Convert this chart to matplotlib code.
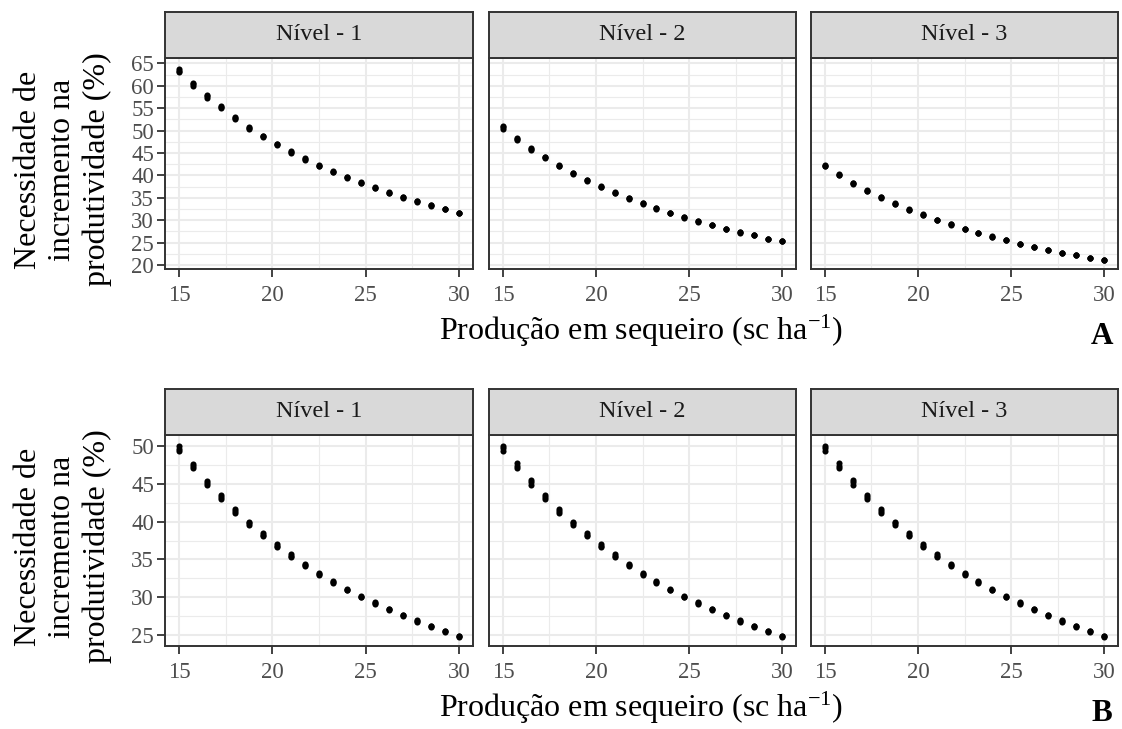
import matplotlib
matplotlib.use("Agg")  # no display in the sandbox
import matplotlib.ticker as ticker
from matplotlib import pyplot as plt

plt.rcParams["font.family"] = ["Liberation Serif", "DejaVu Serif"]
plt.rcParams["mathtext.fontset"] = "custom"
plt.rcParams["mathtext.rm"] = "Liberation Serif"
plt.rcParams["mathtext.it"] = "Liberation Serif:italic"
plt.rcParams["mathtext.bf"] = "Liberation Serif:bold"

# producao em sequeiro (sc/ha)
producao = [15.0, 15.75, 16.5, 17.25, 18.0, 18.75, 19.5, 20.25, 21.0, 21.75, 22.5,
            23.25, 24.0, 24.75, 25.5, 26.25, 27.0, 27.75, 28.5, 29.25, 30.0]
niveis = ["Nível - 1", "Nível - 2", "Nível - 3"]

# painel A - necessidade de incremento (%), centro de cada grupo de pontos
a_nivel1 = [63.36, 60.31, 57.63, 55.18, 52.80, 50.64, 48.71, 46.92, 45.21, 43.65, 42.16,
            40.82, 39.55, 38.36, 37.25, 36.13, 35.09, 34.20, 33.30, 32.48, 31.67]
a_nivel2 = [50.72, 48.18, 45.95, 44.03, 42.15, 40.46, 38.90, 37.47, 36.13, 34.88, 33.76,
            32.65, 31.60, 30.64, 29.75, 28.92, 28.03, 27.29, 26.62, 25.87, 25.29]
a_nivel3 = [42.15, 40.14, 38.29, 36.57, 35.10, 33.67, 32.34, 31.22, 30.04, 29.08, 28.03,
            27.14, 26.31, 25.51, 24.75, 24.01, 23.34, 22.74, 22.16, 21.63, 21.11]
# amplitude vertical de cada grupo de pontos
a_amp1 = [0.75, 0.55, 0.50, 0.45, 0.42, 0.38, 0.35, 0.32, 0.30, 0.28, 0.26,
          0.24, 0.22, 0.20, 0.18, 0.16, 0.14, 0.12, 0.10, 0.08, 0.07]
a_amp2 = [0.60, 0.45, 0.40, 0.36, 0.33, 0.30, 0.28, 0.26, 0.24, 0.22, 0.20,
          0.18, 0.16, 0.15, 0.14, 0.12, 0.10, 0.09, 0.08, 0.06, 0.05]
a_amp3 = [0.30, 0.25, 0.22, 0.20, 0.18, 0.16, 0.15, 0.14, 0.13, 0.12, 0.11,
          0.10, 0.09, 0.08, 0.07, 0.06, 0.05, 0.05, 0.04, 0.04, 0.03]

# painel B
b_nivel1 = [49.62, 47.35, 45.14, 43.20, 41.40, 39.77, 38.26, 36.80, 35.51, 34.27, 33.13,
            32.05, 31.03, 30.10, 29.24, 28.41, 27.64, 26.87, 26.18, 25.51, 24.87]
b_nivel2 = [49.66, 47.38, 45.16, 43.22, 41.41, 39.78, 38.26, 36.80, 35.51, 34.27, 33.13,
            32.05, 31.03, 30.10, 29.24, 28.41, 27.64, 26.87, 26.18, 25.51, 24.87]
b_nivel3 = [49.66, 47.38, 45.16, 43.22, 41.41, 39.78, 38.26, 36.80, 35.51, 34.27, 33.13,
            32.05, 31.03, 30.10, 29.24, 28.41, 27.64, 26.87, 26.18, 25.51, 24.87]
b_amp = [0.65, 0.60, 0.55, 0.50, 0.46, 0.42, 0.38, 0.35, 0.32, 0.29, 0.26,
         0.24, 0.22, 0.20, 0.18, 0.16, 0.15, 0.14, 0.13, 0.12, 0.11]

W, H = 1122, 729
fig = plt.figure(figsize=(W / 100, H / 100), dpi=100)

panel_x = [(165, 473), (489, 796), (811, 1118)]
BORDER = "#333333"
GRID = "#EBEBEB"


def box(x0, x1, y_top, y_bot):
    return [x0 / W, 1 - y_bot / H, (x1 - x0) / W, (y_bot - y_top) / H]


def draw_row(series, amps, y_top, y_bot, ylim, yticks, tag):
    strip_h = 46
    for i, (x0, x1) in enumerate(panel_x):
        ax = fig.add_axes(box(x0, x1, y_top, y_bot))
        y = series[i]
        amp = amps[i]
        lo = [v - a / 2 for v, a in zip(y, amp)]
        hi = [v + a / 2 for v, a in zip(y, amp)]
        for yy in (lo, y, hi):
            ax.plot(producao, yy, "o", color="black", markersize=4.4,
                    markeredgewidth=0, zorder=3)

        ax.set_xlim(14.25, 30.75)
        ax.set_ylim(*ylim)
        ax.set_xticks([15, 20, 25, 30])
        ax.set_yticks(yticks)
        ax.xaxis.set_minor_locator(ticker.MultipleLocator(2.5))
        ax.yaxis.set_minor_locator(ticker.MultipleLocator(2.5))
        ax.set_axisbelow(True)
        ax.grid(which="major", color=GRID, linewidth=1.5)
        ax.grid(which="minor", color=GRID, linewidth=0.8)
        ax.tick_params(which="minor", length=0)
        ax.tick_params(which="major", length=5.5, width=1.3, color=BORDER,
                       labelsize=16.5, labelcolor="#4D4D4D")
        ax.tick_params(axis="x", pad=6)
        ax.tick_params(axis="y", pad=2.5)
        if i > 0:
            ax.tick_params(axis="y", left=False, labelleft=False)
        for sp in ax.spines.values():
            sp.set_color(BORDER)
            sp.set_linewidth(1.4)

        # faixa com o nome do nivel
        st = fig.add_axes(box(x0, x1, y_top - strip_h, y_top))
        st.set_facecolor("#D9D9D9")
        st.set_xticks([])
        st.set_yticks([])
        for sp in st.spines.values():
            sp.set_color(BORDER)
            sp.set_linewidth(1.4)
        st.text(0.5, 0.5, niveis[i], ha="center", va="center", fontsize=17.5,
                color="#1A1A1A", transform=st.transAxes)

    # titulos dos eixos
    fig.text(641 / W, 1 - (y_bot + 71) / H, r"Produção em sequeiro (sc ha$^{-1}$)",
             ha="center", va="baseline", fontsize=23)
    fig.text(63 / W, 1 - ((y_top + y_bot) / 2 + 6) / H,
             "Necessidade de\nincremento na\nprodutividade (%)",
             rotation=90, ha="center", va="center", multialignment="center",
             fontsize=23, linespacing=1.25)
    fig.text(1102 / W, 1 - (y_bot + 75) / H, tag, ha="center", va="baseline",
             fontsize=22.5, fontweight="bold")


draw_row([a_nivel1, a_nivel2, a_nivel3], [a_amp1, a_amp2, a_amp3], 58, 269,
         (19.1, 66.2), list(range(20, 70, 5)), "A")
draw_row([b_nivel1, b_nivel2, b_nivel3], [b_amp, b_amp, b_amp], 435, 646,
         (23.57, 51.43), list(range(25, 55, 5)), "B")

fig.savefig("out.png", dpi=100)
